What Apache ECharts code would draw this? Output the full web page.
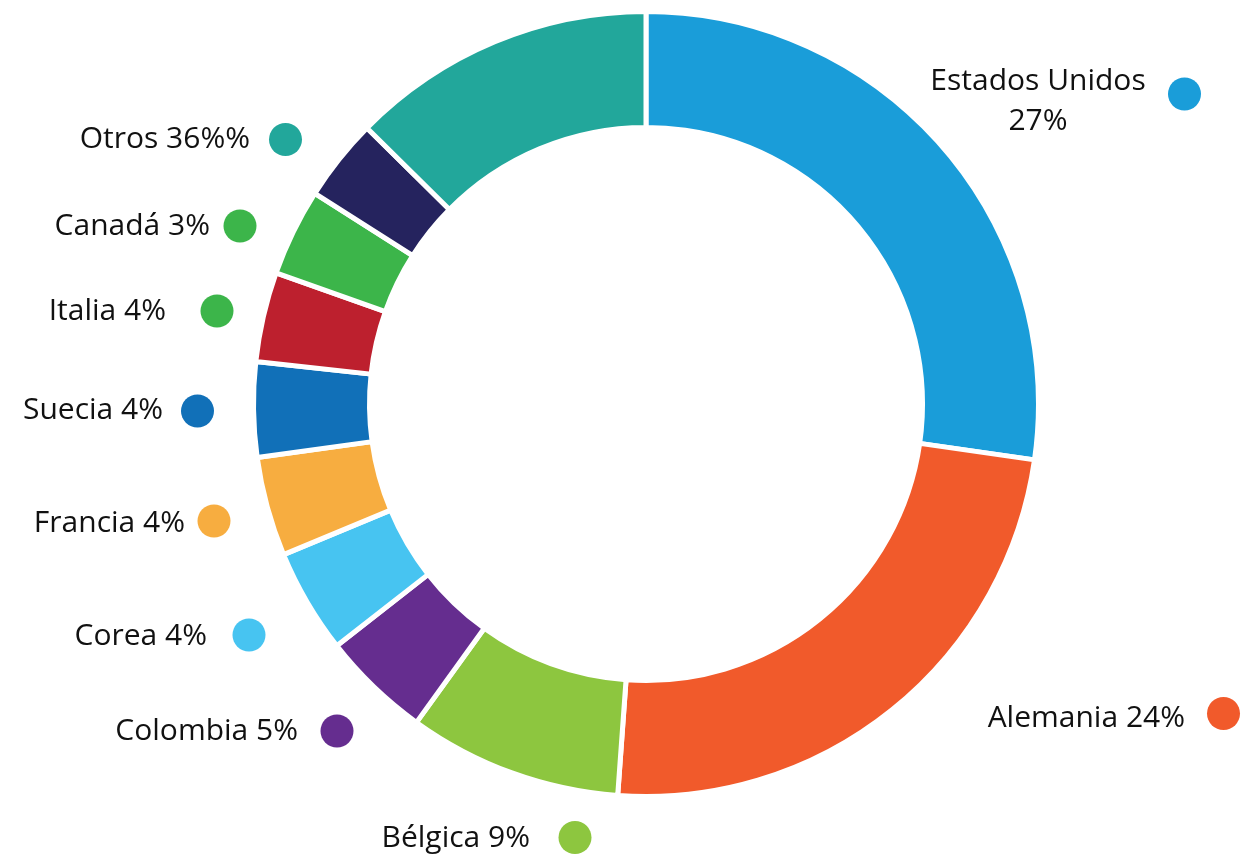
<!DOCTYPE html>
<html lang="es">
<head>
  <meta charset="UTF-8" />
  <title>Donut · países</title>
  <script src="https://cdn.jsdelivr.net/npm/echarts@6/dist/echarts.min.js"></script>
  <style>
    html, body { margin:0; padding:0; width:100%; height:100%; background:#fff; overflow:hidden; }
    #chart { position:absolute; top:0; left:0; width:1241px; height:855px; }
  </style>
</head>
<body>
<div id="chart"></div>
<script>
/* ==== datos ==== */
const names  = ['Estados Unidos','Alemania','Bélgica','Colombia','Corea','Francia','Suecia','Italia','Canadá','','Otros'];
const values = [27.3, 23.9, 8.8, 4.5, 4.3, 4.1, 3.9, 3.7, 3.6, 3.4, 12.6];
const labels = ['Estados Unidos\n27%','Alemania 24%','Bélgica 9%','Colombia 5%','Corea 4%','Francia 4%','Suecia 4%','Italia 4%','Canadá 3%','','Otros 36%%'];

/* ==== estilos ==== */
const sliceColors = ['#1a9dd9','#f15a2b','#8dc63f','#652d8f','#47c4f1','#f7ad40','#1170b8','#bd202e','#3cb54a','#25235e','#22a79b'];
const dotColors   = ['#1a9dd9','#f15a2b','#8dc63f','#652d8f','#47c4f1','#f7ad40','#1170b8','#3cb54a','#3cb54a',null,'#22a79b'];

// posición de textos [x, y, align] y de los puntos [cx, cy]
const textPos = [[1038,101,'center'],[1185,718,'right'],[530,838,'right'],[298,731,'right'],[207,636,'right'],
                 [185,523,'right'],[163,410,'right'],[166,311,'right'],[210,226,'right'],null,[250,139,'right']];
const dotPos  = [[1184.5,94],[1223.5,713.5],[575,837.5],[337,731],[249,635],[214,521],[197.5,411],[217,311],[240,226],null,[285.5,139.5]];

const FONT = '"Open Sans", Lato, sans-serif';
const center = [646, 404];
const radius = [276.5, 392.5];

const dotRich = {};
dotColors.forEach((c,i)=>{
  if(c) dotRich['d'+i] = {width:33, height:33, borderRadius:16.5, backgroundColor:c};
});

const chart = echarts.init(document.getElementById('chart'));
chart.setOption({
  backgroundColor:'#fff',
  animation:false,
  series:[
    { // anillo + textos
      type:'pie',
      center, radius,
      startAngle:90,
      avoidLabelOverlap:false,
      emphasis:{disabled:true},
      itemStyle:{borderColor:'#fff', borderWidth:5},
      labelLine:{show:false},
      label:{
        show:true, position:'outside',
        color:'#111', fontFamily:FONT, fontSize:30, lineHeight:40,
        formatter:p=>labels[p.dataIndex]
      },
      labelLayout:p=>{
        const t = textPos[p.dataIndex];
        if(!t) return {};
        return {x:t[0], y:t[1], align:t[2], verticalAlign:'middle'};
      },
      data:names.map((n,i)=>({name:n, value:values[i], itemStyle:{color:sliceColors[i]}}))
    },
    { // puntos de color
      type:'pie',
      center, radius,
      startAngle:90,
      silent:true,
      avoidLabelOverlap:false,
      emphasis:{disabled:true},
      itemStyle:{color:'rgba(0,0,0,0)', borderWidth:0},
      labelLine:{show:false},
      label:{
        show:true, position:'outside',
        formatter:p=>dotColors[p.dataIndex] ? `{d${p.dataIndex}|}` : '',
        rich:dotRich
      },
      labelLayout:p=>{
        const d = dotPos[p.dataIndex];
        if(!d) return {};
        return {x:d[0], y:d[1], align:'center', verticalAlign:'middle'};
      },
      data:names.map((n,i)=>({name:n, value:values[i]}))
    }
  ]
});
</script>
</body>
</html>
